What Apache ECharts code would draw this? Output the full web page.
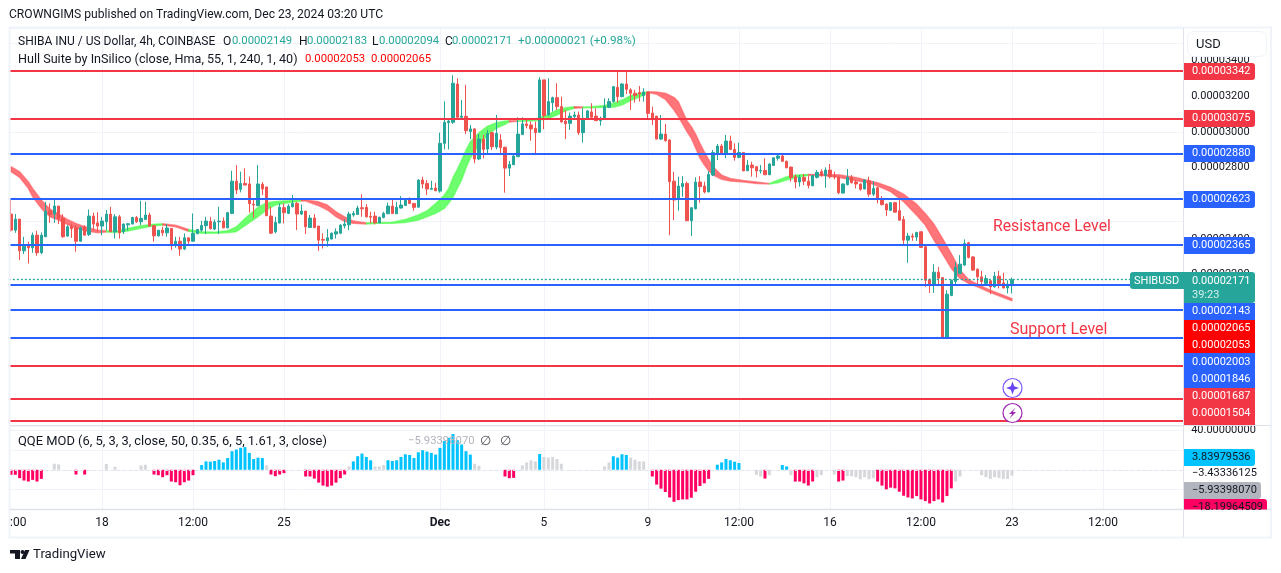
<!DOCTYPE html>
<html><head><meta charset="utf-8"><title>SHIBUSD</title>
<script src="https://cdn.jsdelivr.net/npm/echarts@6/dist/echarts.min.js"></script>
<style>html,body{margin:0;background:#fff}#c{width:1281px;height:573px}</style></head>
<body><div id="c"></div>
<script>
// Prices are in units of 0.00000001 USD. Candle rows: [open, close, low, high]
const candlesNov = [
[2539,2449,2440,2627],[2449,2511,2434,2539],[2511,2333,2281,2511],[2333,2359,2315,2412],[2365,2350,2262,2384],[2350,2421,2322,2436],[2421,2322,2305,2446],[2322,2421,2315,2436],[2412,2556,2412,2608],[2556,2537,2490,2599],
[2539,2584,2490,2618],[2584,2515,2483,2584],[2515,2412,2406,2539],[2416,2468,2412,2477],[2472,2457,2406,2487],[2462,2387,2328,2477],[2387,2462,2384,2468],[2468,2421,2421,2477],[2425,2528,2416,2565],[2528,2483,2449,2547],
[2490,2472,2440,2549],[2472,2500,2421,2524],[2496,2539,2449,2562],[2539,2440,2440,2580],[2440,2524,2402,2539],[2524,2434,2402,2534],[2440,2483,2427,2487],[2479,2485,2446,2487],[2483,2520,2483,2524],[2520,2496,2490,2528],
[2496,2515,2477,2614],[2509,2534,2505,2608],[2534,2472,2468,2547],[2474,2417,2384,2477],[2417,2449,2412,2449],[2449,2434,2416,2468],[2434,2461,2412,2483],[2459,2361,2337,2461],[2363,2387,2350,2412],[2387,2343,2305,2412],
[2343,2406,2337,2431],[2406,2387,2361,2406],[2387,2431,2384,2543],[2429,2453,2427,2453],[2449,2475,2440,2502],[2474,2500,2427,2524],[2498,2457,2453,2524],[2455,2494,2449,2509],[2496,2500,2427,2580],[2500,2462,2459,2520],
[2462,2547,2459,2552],[2543,2724,2539,2782],[2724,2674,2651,2814],[2678,2711,2661,2777],[2711,2702,2702,2796],[2708,2597,2547,2749],[2595,2590,2520,2621],[2586,2708,2584,2814],[2706,2680,2646,2719],[2691,2530,2528,2693],
[2528,2432,2427,2580],[2440,2492,2431,2524],[2489,2578,2487,2599],[2575,2547,2487,2599],[2543,2584,2539,2595],[2580,2599,2577,2646],[2599,2539,2449,2608],[2539,2556,2534,2593],[2556,2468,2427,2556],[2464,2517,2462,2534],
[2517,2464,2459,2539],[2472,2393,2333,2472],[2397,2393,2346,2431],[2389,2406,2356,2455],[2399,2432,2397,2436],[2427,2440,2402,2459],[2432,2477,2427,2483],[2474,2483,2459,2509],[2479,2539,2449,2552],[2534,2543,2524,2556],
[2537,2573,2534,2586],[2575,2569,2524,2650],[2577,2524,2520,2595],[2526,2522,2487,2552],[2528,2490,2481,2552],[2490,2522,2487,2524],[2520,2543,2515,2552],[2541,2584,2539,2603],[2584,2543,2539,2618],[2541,2577,2539,2608],
[2573,2590,2571,2640],[2588,2621,2584,2627],[2621,2599,2595,2633],[2599,2577,2558,2599],[2578,2730,2577,2734],[2730,2708,2683,2749],[2711,2680,2646,2730],[2678,2683,2678,2726],[2685,2670,2668,2715]
];
const candlesDecEarly = [
[2668,2936,2659,2996],[2936,3054,2902,3172],[3052,3061,2902,3076],[3054,3273,3045,3318],[3269,3082,3076,3301],[3082,3089,3076,3179],[3088,3007,2988,3264],[3002,3017,2960,3039],[3017,2848,2824,3020],[2848,2960,2842,2988],
[2960,2902,2852,2983],[2904,2992,2880,3011],[2996,2917,2899,3002],[2915,2992,2902,3095],[2955,2912,2876,2988],[2914,2797,2659,2917],[2797,2818,2753,2837],[2816,2865,2814,2880],[2861,2988,2861,3082],[2985,3045,2983,3082],
[3045,3035,3020,3071],[3039,3017,2951,3058],[3020,2996,2870,3058],[2998,3292,2998,3307],[3292,3091,3015,3292],[3095,3170,3091,3301],[3164,3192,3114,3198],[3192,3142,3123,3273],[3142,3056,3052,3198],[3061,3046,2960,3123],
[3048,3089,3011,3108],[3086,3095,3076,3114],[3095,2996,2983,3114],[2996,3076,2940,3133],[3071,3118,3067,3123],[3112,3082,3076,3161],[3089,3063,3061,3133],[3063,3076,3035,3086],[3075,3142,3071,3189],[3138,3170,3133,3189],
[3170,3254,3164,3258],[3250,3198,3164,3342],[3198,3269,3194,3273],[3269,3239,3213,3342],[3236,3217,3123,3245],[3217,3204,3164,3236],[3221,3213,3170,3258],[3204,3224,3170,3245]
];
const candlesDecLate = [
[3224,3104,3067,3224],[3106,3071,3039,3142],[3089,2960,2958,3089],[2960,2988,2955,3095],[2988,2951,2945,3045],[2955,2721,2421,2958],[2724,2618,2505,2777],[2621,2696,2558,2749],[2693,2711,2636,2752],[2711,2502,2502,2721],
[2502,2575,2416,2575],[2569,2719,2565,2745],[2719,2693,2603,2752],[2696,2663,2655,2721],[2663,2762,2663,2781],[2758,2884,2753,2899],[2874,2921,2842,2932],[2921,2880,2874,2932],[2880,2949,2852,2983],[2949,2902,2899,2979],
[2902,2857,2839,2936],[2857,2885,2852,2940],[2885,2781,2781,2885],[2782,2814,2782,2842],[2814,2799,2749,2833],[2805,2781,2745,2809],[2781,2784,2767,2814],[2784,2760,2758,2852],[2760,2820,2758,2824],[2812,2855,2811,2857],
[2852,2865,2839,2880],[2865,2835,2831,2880],[2835,2799,2796,2839],[2803,2745,2721,2805],[2749,2719,2683,2762],[2719,2745,2693,2758],[2745,2724,2702,2764],[2724,2700,2683,2752],[2698,2756,2696,2758],[2745,2773,2739,2786],
[2777,2756,2749,2790],[2756,2786,2687,2801],[2786,2749,2739,2820],[2754,2747,2734,2777],[2747,2659,2651,2749],[2657,2708,2655,2711],[2704,2745,2700,2792],[2745,2715,2711,2758],[2719,2708,2683,2730],[2708,2678,2670,2711],
[2680,2730,2678,2734],[2726,2651,2636,2749],[2651,2683,2640,2724],[2687,2621,2599,2693],[2627,2592,2588,2640],[2595,2562,2528,2599],[2560,2603,2556,2606],[2603,2550,2547,2608],[2558,2505,2502,2618],[2509,2393,2371,2528],
[2393,2416,2266,2434],[2416,2410,2389,2431],[2410,2436,2389,2440],[2440,2352,2350,2440],[2356,2168,2131,2359],[2172,2144,2097,2178],[2146,2213,2097,2258],[2213,2180,2140,2243],[2183,1846,1846,2183],[1846,2090,1846,2112],
[2082,2168,2079,2172],[2161,2240,2137,2271],[2206,2258,2206,2309],[2253,2374,2249,2397],[2378,2296,2290,2384],[2299,2225,2221,2303],[2230,2187,2140,2234],[2187,2161,2137,2221],[2150,2178,2140,2197],[2165,2131,2090,2172],
[2131,2191,2127,2215],[2191,2150,2122,2221],[2153,2125,2122,2210],[2125,2146,2094,2168],[2149,2171,2094,2183]
];
// Hull band nodes: [bar index, upper price, lower price]
const hullNodes = [
[0,2805,2777],[2,2777,2745],[4,2721,2683],[5,2683,2636],[7,2618,2571],[9,2567,2524],[11,2539,2505],[13,2509,2481],[15,2487,2459],[17,2468,2446],[20,2449,2434],[22,2446,2438],
[24,2442,2436],[27,2459,2444],[30,2474,2459],[33,2483,2474],[35,2485,2477],[38,2477,2468],[41,2453,2442],[44,2440,2431],[47,2438,2432],[50,2446,2434],[52,2468,2440],[54,2515,2474],
[57,2577,2524],[59,2603,2562],[61,2610,2590],[64,2614,2603],[67,2618,2612],[68,2618,2612],[71,2608,2586],[73,2590,2562],[75,2552,2524],[77,2524,2498],[79,2500,2487],[82,2490,2483],
[85,2492,2487],[88,2494,2487],[91,2509,2492],[94,2534,2505],[96,2558,2524],[98,2599,2543],[100,2646,2571],[101,2683,2599],[102,2745,2633],[103,2790,2683],[104,2842,2730],[105,2899,2796],
[106,2945,2852],[108,2996,2927],[110,3033,2983],[112,3052,3020],[114,3061,3041],[115,3063,3056],[117,3063,3060],[119,3065,3060],[122,3080,3065],[124,3099,3076],[126,3123,3095],[128,3136,3118],
[130,3142,3133],[132,3140,3136],[134,3142,3136],[137,3148,3138],[139,3161,3138],[141,3179,3151],[143,3204,3176],[145,3217,3194],[147,3226,3221],[149,3224,3211],[151,3217,3183],[153,3194,3123],
[154,3170,3086],[156,3063,3001],[157,3030,2964],[158,2988,2908],[159,2936,2852],[160,2889,2814],[161,2846,2782],[162,2805,2758],[164,2758,2734],[166,2739,2724],[169,2728,2719],[172,2719,2711],
[175,2711,2708],[177,2730,2715],[179,2749,2730],[181,2758,2743],[184,2762,2756],[187,2762,2756],[191,2760,2745],[195,2745,2726],[198,2726,2715],[200,2715,2696],[203,2689,2665],[206,2651,2608],
[209,2595,2533],[211,2543,2477],[213,2483,2393],[215,2402,2314],[217,2318,2234],[219,2225,2178],[221,2172,2150],[223,2146,2131],[226,2112,2099],[229,2084,2071],[231,2065,2053]
];
const hullGreenSpans = [[24,35],[44,67],[85,115],[119,130],[134,147],[177,184]];
const resistanceLevels = [3342,3075,1687,1504,1380];
const supportLevels = [2880,2623,2365,2143,2003,1846];
const lastPrice = 2171;
const priceTicks = [3400,3200,3000,2800,2600,2400,2200,2000,1800,1600,1400];
// QQE histogram: [bar index, value]
const qqePink = [[0,-5.1],[1,-5.1],[2,-8.5],[3,-10.9],[4,-11.9],[5,-10.2],[6,-11.9],[7,-9.2],[15,-4.8],[17,-4.8],[33,-4.8],[34,-5.5],[35,-7.5],[36,-5.5],[37,-11.9],[38,-12.6],[39,-15.7],[40,-12.6],[41,-10.9],[42,-5.5],[60,-4.8],[61,-6.5],[62,-4.8],[63,-3.4],[68,-6.8],[69,-6.8],[70,-8.9],[71,-13],[72,-16],[73,-17.1],[74,-16],[75,-13],[76,-8.5],[77,-4.8],[114,-6.8],[115,-8.5],[116,-8.2],[148,-6.8],[149,-15],[150,-19.1],[151,-22.5],[152,-28],[153,-32.4],[154,-30.7],[155,-30],[156,-30],[157,-28.3],[158,-22.2],[159,-16.4],[160,-13.7],[161,-9.2],[174,-8.9],[181,-11.9],[182,-11.9],[183,-13.7],[184,-16],[185,-11.9],[191,-11.9],[192,-10.9],[200,-11.9],[201,-16],[202,-19.8],[203,-18.1],[204,-18.8],[205,-22.2],[206,-26.3],[207,-28],[208,-29],[209,-26.6],[210,-30],[211,-31.7],[212,-34.1],[213,-31.7],[214,-30],[215,-33.1],[216,-26.6],[217,-18.8]];
const qqeBlue = [[44,4.8],[45,8.5],[46,8.2],[47,8.9],[48,10.2],[49,7.5],[50,11.9],[51,18.8],[52,20.5],[53,22.2],[54,22.9],[55,17.1],[56,10.9],[57,12.3],[58,11.9],[79,8.5],[80,13.7],[81,16.4],[82,13],[83,9.6],[87,9.6],[88,8.9],[89,9.6],[90,13],[91,15.7],[92,15],[93,11.9],[94,17.7],[95,19.8],[96,18.4],[97,17.1],[98,15.4],[99,22.2],[100,29],[101,32.4],[102,36.2],[103,30],[104,25.6],[105,18.8],[106,15.4],[122,16],[139,13.7],[140,12.3],[141,15.7],[142,15],[163,5.1],[164,7.5],[165,10.9],[166,9.6],[167,8.2],[168,6.8],[178,4.8],[179,3.4]];
const qqeGray = [[10,6.1],[11,5.5],[22,5.8],[24,3.1],[30,4.4],[31,5.1],[59,4.4],[78,3.4],[84,3.4],[85,3.4],[86,4.8],[107,6.1],[108,4.1],[118,4.4],[119,7.5],[120,9.6],[121,8.5],[123,13],[124,12.3],[125,13],[126,10.9],[127,6.1],[137,3.4],[138,7.5],[143,12.3],[144,10.2],[145,8.5],[146,8.5],[172,-5.1],[173,-6.8],[175,-5.5],[180,-5.5],[186,-7.5],[187,-5.5],[190,-4.8],[193,-6.5],[194,-6.5],[195,-7.5],[196,-9.6],[197,-7.5],[198,-9.6],[199,-8.5],[218,-11.9],[219,-6.8],[224,-5.5],[225,-7.5],[226,-9.2],[227,-7.5],[228,-8.2],[229,-9.2],[230,-9.2],[231,-5.93]];
const timeTickIndex = [21,42,63,99,123,147,168,189,210,231,252];
const timeTickLabel = ['18','12:00','25','Dec','5','9','12:00','16','12:00','23','12:00'];

const SLOTS = 271;
const FONT = 'Roboto, sans-serif';
const INK = '#131722';
const categories = Array.from({length: SLOTS}, (_, i) => String(i));
const candles = candlesNov.concat(candlesDecEarly, candlesDecLate);
const tickOf = {}; timeTickIndex.forEach((k, n) => { tickOf[k] = timeTickLabel[n]; });
const isTick = i => tickOf[i] !== undefined;
const isGreen = i => hullGreenSpans.some(s => i >= s[0] && i <= s[1]);

function hullRender(params, api) {
  if (params.dataIndex !== 0) return null;
  const children = [];
  let run = [hullNodes[0]], green = isGreen(hullNodes[1][0]);
  const flush = () => {
    const pts = run.map(n => api.coord([n[0], n[1]])).concat(run.slice().reverse().map(n => api.coord([n[0], n[2]])));
    children.push({type: 'polygon', shape: {points: pts}, style: {
      fill: green ? 'rgba(72,255,72,0.8)' : 'rgba(255,82,88,0.8)',
      stroke: green ? 'rgba(72,255,72,0.55)' : 'rgba(255,82,88,0.55)', lineWidth: 1.4, lineJoin: 'round'}});
  };
  for (let j = 1; j < hullNodes.length; j++) {
    const g = isGreen(hullNodes[j][0]);
    if (g !== green) { flush(); run = [hullNodes[j - 1]]; green = g; }
    run.push(hullNodes[j]);
  }
  flush();
  return {type: 'group', children};
}
function levelLines(values, color) {
  return {type: 'line', xAxisIndex: 0, yAxisIndex: 0, data: [], z: 1, silent: true,
    markLine: {silent: true, symbol: 'none', animation: false, label: {show: false},
      lineStyle: {color, width: 2, type: 'solid'}, data: values.map(v => ({yAxis: v}))}};
}
function qqeBars(data, color) {
  return {type: 'bar', xAxisIndex: 1, yAxisIndex: 1, data, barWidth: 3, barGap: '-100%', z: 2, itemStyle: {color}, silent: true};
}
// --- overlay helpers
const T = (text, x, y, fill, size) => ({type: 'text', z: 110, silent: true, style: {text, x, y: y + 1, fill, font: (size || 11) + 'px ' + FONT, verticalAlign: 'middle', align: 'left'}});
const R = (x, y, w, h, fill, r, stroke) => ({type: 'rect', z: 105, silent: true, shape: {x, y, width: w, height: h, r: r || 0}, style: {fill, stroke: stroke || null, lineWidth: stroke ? 1 : 0}});
const L = (x1, y1, x2, y2, stroke, w) => ({type: 'line', z: 104, silent: true, shape: {x1, y1, x2, y2}, style: {stroke, lineWidth: w || 1}});
const RED = '#f23645', BLUE = '#2962ff', TEAL = '#26a69a', HARD = '#ff0000';
const AX = 1184, TW = 71, TX = 1192;
const overlay = [
  // frame
  L(9.5, 27, 9.5, 538, '#f0f3fa', 2), L(9, 27.5, 1272, 27.5, '#f0f3fa', 2), L(1271, 27, 1271, 538, '#f0f3fa', 2), L(9, 537.5, 1272, 537.5, '#f0f3fa', 2),
  L(1183.5, 28, 1183.5, 537, '#e0e3eb', 1), L(10, 425.5, 1271, 425.5, '#e0e3eb', 1), L(10, 509.5, 1271, 509.5, '#e0e3eb', 1.5),
  // USD button
  R(1187.5, 31.5, 79, 25, '#ffffff', 6, '#f0f3fa'), T('USD', 1196, 43.5, INK, 13),
  // price tags
  R(AX, 63, TW, 17, RED, [0,3,3,0]), T('0.00003342', TX, 70.5, '#fff'),
  R(AX, 110, TW, 17, RED, [0,3,3,0]), T('0.00003075', TX, 117.5, '#fff'),
  R(AX, 145, TW, 17, BLUE, [0,3,3,0]), T('0.00002880', TX, 152.5, '#fff'),
  R(AX, 191, TW, 17, BLUE, [0,3,3,0]), T('0.00002623', TX, 198.5, '#fff'),
  R(AX, 237, TW, 17, BLUE, [0,3,3,0]), T('0.00002365', TX, 244.5, '#fff'),
  R(1130, 272, 54, 17, TEAL, [3,0,0,3]), T('SHIBUSD', 1134, 280, '#fff'),
  R(AX, 272, TW, 31, TEAL, [0,3,3,0]), T('0.00002171', TX, 280, '#fff'), T('39:23', TX, 294, '#d4eeeb'),
  R(AX, 303, TW, 17, BLUE), T('0.00002143', TX, 310.5, '#fff'),
  R(AX, 320, TW, 33, HARD), T('0.00002065', TX, 327.5, '#fff'), T('0.00002053', TX, 344.5, '#fff'),
  R(AX, 353, TW, 35, BLUE), T('0.00002003', TX, 361, '#fff'), T('0.00001846', TX, 378.5, '#fff'),
  R(AX, 388, TW, 37, RED), T('0.00001687', TX, 395.5, '#fff'), T('0.00001504', TX, 412.5, '#fff'),
  // QQE tags
  R(AX, 449, TW, 17, '#00c3ff', [0,3,3,0]), T('3.83979536', TX, 456.5, INK),
  T('\u22123.43336125', TX, 472.5, INK),
  R(AX, 482, 77, 17, '#b2b5be', [0,3,3,0]), T('\u22125.93398070', TX, 489.5, INK),
  R(AX, 499, 83, 10.5, '#ff0062', [0,3,0,0]),
  // header
  T('CROWNGIMS published on TradingView.com, Dec 23, 2024 03:20 UTC', 9, 14, INK, 12.1),
  T('SHIBA INU / US Dollar, 4h, COINBASE', 18, 40.5, INK, 12),
  T('O', 223, 40.5, INK, 12), T('0.00002149', 232, 40.5, TEAL, 11.3),
  T('H', 299, 40.5, INK, 12), T('0.00002183', 307, 40.5, TEAL, 11.3),
  T('L', 372, 40.5, INK, 12), T('0.00002094', 379, 40.5, TEAL, 11.3),
  T('C', 445, 40.5, INK, 12), T('0.00002171', 452, 40.5, TEAL, 11.3),
  T('+0.00000021 (+0.98%)', 518, 40.5, TEAL, 11.7),
  T('Hull Suite by InSilico (close, Hma, 55, 1, 240, 1, 40)', 18, 58.5, INK, 12.6),
  T('0.00002053', 305, 58.5, HARD, 11.3), T('0.00002065', 371, 58.5, HARD, 11.3),
  T('QQE MOD (6, 5, 3, 3, close, 50, 0.35, 6, 5, 1.61, 3, close)', 18, 440.5, INK, 12.9),
  T('\u22125.93398070', 408, 440.5, '#b2b5be', 11.3), T('\u2205', 480, 440.5, '#50535e', 13), T('\u2205', 500, 440.5, '#50535e', 13),
  T(':00', 10, 522, INK, 12),
  // annotations
  T('Resistance Level', 993, 226, RED, 15.8), T('Support Level', 1010, 329, RED, 16),
  // badges
  {type: 'circle', z: 106, silent: true, shape: {cx: 1012.5, cy: 388, r: 9.5}, style: {fill: '#fff', stroke: '#7e57ff', lineWidth: 1.2}},
  {type: 'polygon', z: 107, silent: true, shape: {points: [[1012.5,381.5],[1014.2,386.3],[1019,388],[1014.2,389.7],[1012.5,394.5],[1010.8,389.7],[1006,388],[1010.8,386.3]]}, style: {fill: '#6a45f5'}},
  {type: 'circle', z: 106, silent: true, shape: {cx: 1012.5, cy: 413, r: 9.5}, style: {fill: '#fff', stroke: '#9c27b0', lineWidth: 1.2}},
  {type: 'polygon', z: 107, silent: true, shape: {points: [[1015.5,407.5],[1009,414],[1012.2,414],[1009.5,418.5],[1016,412],[1012.8,412]]}, style: {fill: '#9c27b0'}},
  // footer logo
  {type: 'polygon', z: 107, silent: true, shape: {points: [[10,550],[20,550],[20,559],[15,559],[15,553.6],[10,553.6]]}, style: {fill: INK}},
  {type: 'circle', z: 107, silent: true, shape: {cx: 22.5, cy: 552, r: 2}, style: {fill: INK}},
  {type: 'polygon', z: 107, silent: true, shape: {points: [[25,550],[29.5,550],[25.5,559],[21,559]]}, style: {fill: INK}},
  T('TradingView', 33, 554, INK, 13.2)
];
// pink QQE tag text is cut off by the mask below the pane, as in the source
overlay.push({type: 'text', z: 106, silent: true, style: {text: '\u221218.19964509', x: TX, y: 507, fill: INK, font: '11px ' + FONT, verticalAlign: 'middle'}});
overlay.push(Object.assign(R(1184, 510.2, 86, 26, '#ffffff'), {z: 107}));

const option = {
  animation: false,
  backgroundColor: '#ffffff',
  textStyle: {fontFamily: FONT},
  grid: [
    {left: 8.83, top: 28, width: 1174.3, height: 397, containLabel: false},
    {left: 8.83, top: 426.3, width: 1174.3, height: 83, containLabel: false}
  ],
  xAxis: [
    {type: 'category', gridIndex: 0, data: categories, boundaryGap: true, axisLine: {show: false}, axisTick: {show: false}, axisLabel: {show: false},
      splitLine: {show: true, alignWithLabel: true, interval: isTick, lineStyle: {color: '#f0f3fa', width: 1}}},
    {type: 'category', gridIndex: 1, data: categories, boundaryGap: true, axisLine: {show: false}, axisTick: {show: false},
      axisLabel: {show: true, interval: isTick, margin: 8, fontFamily: FONT, fontSize: 12, color: INK, hideOverlap: false,
        formatter: v => { const s = tickOf[+v]; return s === 'Dec' ? '{b|Dec}' : (s || ''); }, rich: {b: {fontWeight: 'bold', fontSize: 12, fontFamily: FONT, color: INK}}},
      splitLine: {show: true, alignWithLabel: true, interval: isTick, lineStyle: {color: '#f0f3fa', width: 1}}}
  ],
  yAxis: [
    {type: 'value', gridIndex: 0, position: 'right', min: 1356, max: 3583, axisLine: {show: false}, axisTick: {show: false},
      axisLabel: {customValues: priceTicks, margin: 8, padding: [2, 0, 0, 0], fontFamily: FONT, fontSize: 11, color: INK, formatter: v => '0.0000' + v},
      splitLine: {show: true, customValues: priceTicks, lineStyle: {color: '#f0f3fa', width: 1}}},
    {type: 'value', gridIndex: 1, position: 'right', min: -40, max: 44, axisLine: {show: false}, axisTick: {show: false},
      axisLabel: {customValues: [40], margin: 8, padding: [2, 0, 0, 0], fontFamily: FONT, fontSize: 11, color: INK, formatter: v => v.toFixed(8)},
      splitLine: {show: true, customValues: [40], lineStyle: {color: '#f0f3fa', width: 1}}}
  ],
  series: [
    levelLines(resistanceLevels, RED),
    levelLines(supportLevels, BLUE),
    {type: 'line', xAxisIndex: 0, yAxisIndex: 0, data: [], z: 1, silent: true,
      markLine: {silent: true, symbol: 'none', animation: false, label: {show: false},
        lineStyle: {color: TEAL, width: 1.3, type: [2, 2]}, data: [{yAxis: lastPrice}]}},
    {type: 'custom', xAxisIndex: 0, yAxisIndex: 0, data: [[0, 0]], z: 2, silent: true, renderItem: hullRender, clip: true},
    {type: 'candlestick', xAxisIndex: 0, yAxisIndex: 0, data: candles, barWidth: 3, z: 3, silent: true,
      itemStyle: {color: TEAL, color0: '#ef5350', borderColor: TEAL, borderColor0: '#ef5350', borderWidth: 1}},
    {type: 'line', xAxisIndex: 1, yAxisIndex: 1, data: [], z: 1, silent: true,
      markLine: {silent: true, symbol: 'none', animation: false, label: {show: false},
        lineStyle: {color: '#e0e3eb', width: 1, type: [3, 3]}, data: [{yAxis: 0}]}},
    qqeBars(qqePink, '#ff0062'),
    qqeBars(qqeBlue, '#00c3ff'),
    qqeBars(qqeGray, '#d6d7db')
  ],
  graphic: {elements: overlay}
};
echarts.init(document.getElementById('c'), null, {renderer: 'canvas'}).setOption(option);
</script></body></html>
